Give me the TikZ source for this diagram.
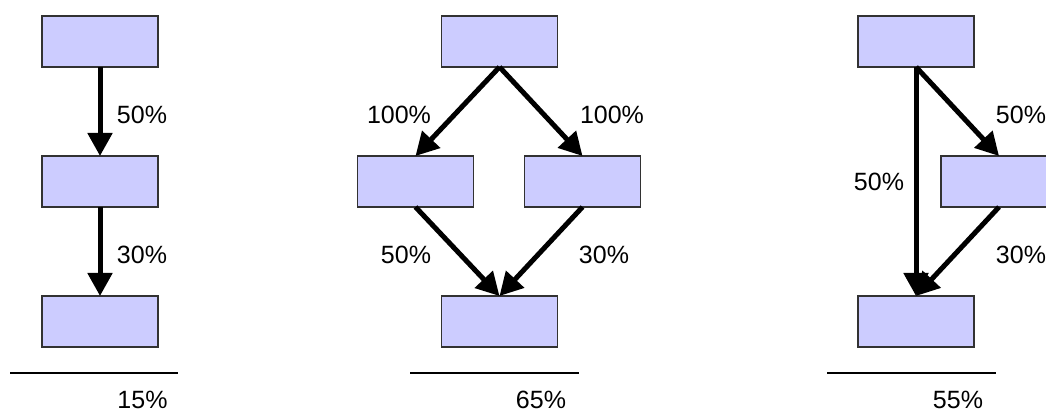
\documentclass[tikz,border=0pt]{standalone}
\usepackage{fontspec}
\setmainfont{Liberation Sans}
\usetikzlibrary{arrows.meta}
\definecolor{boxfill}{RGB}{204,204,255}
\definecolor{boxline}{RGB}{50,50,50}
\begin{document}
\begin{tikzpicture}[x=1pt,y=-1pt,
  blk/.style={draw=boxline,line width=1.3pt,fill=boxfill,minimum width=116pt,minimum height=51pt,inner sep=0pt,outer sep=0pt},
  flow/.style={line width=5pt,-{Triangle[length=23pt,width=24pt]}},
  lbl/.style={inner sep=0pt,font=\fontsize{25}{29}\selectfont},
  baseline/.style={line width=1.3pt,black}]
\useasboundingbox (0,0) rectangle (1046,419);
\clip (0,0) rectangle (1046,419);
% left chain
\node[blk] (a1) at (100,41.5) {};
\node[blk] (a2) at (100,181.5) {};
\node[blk] (a3) at (100,321.5) {};
\draw[flow] (a1.south) -- (a2.north);
\draw[flow] (a2.south) -- (a3.north);
\node[lbl] (la1) at (142,114.5) {50\%};
\node[lbl] (la2) at (142,255) {30\%};
\draw[baseline] (10,373) -- (178,373);
\node[lbl] (ra) at (142.5,400) {15\%};
% middle diamond
\node[blk] (b1) at (499.5,41.5) {};
\node[blk] (b2) at (415.5,181.5) {};
\node[blk] (b3) at (582.5,181.5) {};
\node[blk] (b4) at (499.5,321.5) {};
\draw[flow] (b1.south) -- (b2.north);
\draw[flow] (b1.south) -- (b3.north);
\draw[flow] (b2.south) -- (b4.north);
\draw[flow] (b3.south) -- (b4.north);
\node[lbl] (lb1) at (399,114.5) {100\%};
\node[lbl] (lb2) at (612,114.5) {100\%};
\node[lbl] (lb3) at (406,255) {50\%};
\node[lbl] (lb4) at (604,255) {30\%};
\draw[baseline] (410,373) -- (579,373);
\node[lbl] (rb) at (541,400) {65\%};
% right
\node[blk] (c1) at (916,41.5) {};
\node[blk] (c2) at (999,181.5) {};
\node[blk] (c3) at (916,321.5) {};
\draw[flow] (c1.south) -- (c3.north);
\draw[flow] (c1.south) -- (c2.north);
\draw[flow] (c2.south) -- (c3.north);
\node[lbl] (lc1) at (879,181.5) {50\%};
\node[lbl] (lc2) at (1021,114.5) {50\%};
\node[lbl] (lc3) at (1021,255) {30\%};
\draw[baseline] (827,373) -- (996,373);
\node[lbl] (rc) at (958,400) {55\%};
\end{tikzpicture}
\end{document}
